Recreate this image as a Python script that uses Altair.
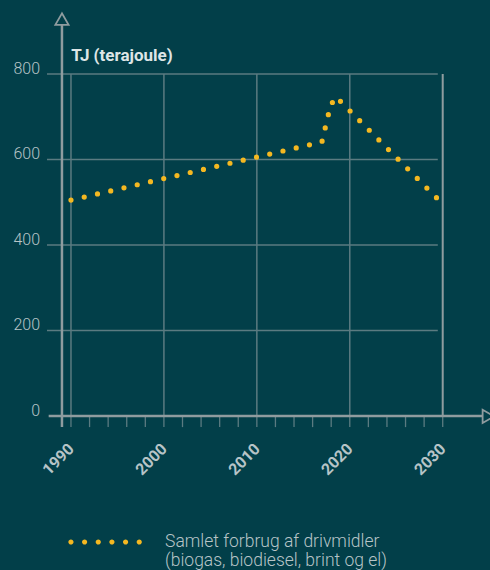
import altair as alt
import pandas as pd
import jinja2

# ---- data ----
hist_years = [1990, 2017, 2018, 2019]
hist_values = [505, 641, 733, 736]
proj_years = [2019, 2030]
proj_values = [736, 496]
series_label = "Samlet forbrug af drivmidler|(biogas, biodiesel, brint og el)"

x_label_years = [1990, 2000, 2010, 2020, 2030]
y_tick_values = [0, 200, 400, 600, 800]
grid_years = [1990, 2000, 2010, 2020]
end_year = [2030]
minor_tick_years = list(range(1990, 2031, 2))
h_grid_values = [200, 400, 600, 800]

# ---- style ----
BG = "#023f49"
GOLD = "#f4b821"
GRID = "#5b7b81"
AXIS = "#8f9c9f"
LABEL = "#b7c4c7"
TITLE = "#dde5e6"
FONT = "Roboto"

XMIN, XMAX = 1987.42, 2034.55
W, H = 438, 342
xs = alt.Scale(domain=[XMIN, XMAX], nice=False, zero=False)
ys = alt.Scale(domain=[0, 800], nice=False, zero=False)

GRID_END = 2029.47
Y_AXIS_X = 1989.03
TICK_LOW = -26
Y_AXIS_TOP = 917

xaxis = alt.Axis(values=x_label_years, format="d", labelAngle=-45, labelAlign="right",
                 labelBaseline="middle", labelFont=FONT, labelFontWeight="bold",
                 labelFontSize=16, labelColor=LABEL, labelPadding=30, ticks=False,
                 domain=False, grid=False, title=None, labelFlush=False, labelOverlap=False)
yaxis = alt.Axis(values=y_tick_values, labelFont=FONT, labelFontSize=16, labelFontWeight=300,
                 labelColor=LABEL, labelPadding=7.5, labelBaseline="alphabetic", labelOffset=-1,
                 ticks=False, domain=False, grid=False, title="TJ (terajoule)", titleAngle=0,
                 titleX=23.7, titleY=-13.3, titleAlign="left", titleBaseline="alphabetic",
                 titleFont=FONT, titleFontWeight="bold", titleFontSize=17, titleColor=TITLE)


def X(field):
    return alt.X(field, scale=xs, axis=xaxis)


def Y(field):
    return alt.Y(field, scale=ys, axis=yaxis)


# horizontal grid
df_h = pd.DataFrame({"y": h_grid_values})
df_h["x0"] = XMIN
df_h["x1"] = GRID_END
hgrid = alt.Chart(df_h).mark_rule(color=GRID, strokeWidth=1.5).encode(
    x=X("x0:Q"), x2="x1:Q", y=Y("y:Q"))

# vertical grid
df_v = pd.DataFrame({"x": grid_years})
df_v["y0"] = 0
df_v["y1"] = 800
vgrid = alt.Chart(df_v).mark_rule(color=GRID, strokeWidth=1.5).encode(
    x=X("x:Q"), y=Y("y0:Q"), y2="y1:Q")

df_end = pd.DataFrame({"x": end_year})
df_end["y0"] = 0
df_end["y1"] = 800
endline = alt.Chart(df_end).mark_rule(color=AXIS, strokeWidth=2).encode(
    x=X("x:Q"), y=Y("y0:Q"), y2="y1:Q")

# minor ticks below the axis
df_t = pd.DataFrame({"x": minor_tick_years})
df_t["y0"] = 0
df_t["y1"] = TICK_LOW
ticks = alt.Chart(df_t).mark_rule(color=GRID, strokeWidth=1.3).encode(
    x=X("x:Q"), y=Y("y0:Q"), y2="y1:Q")

# axis lines
df_xa = pd.DataFrame({"x0": [1987.6], "x1": [2034.29], "y": [0]})
xaxis_line = alt.Chart(df_xa).mark_rule(color=AXIS, strokeWidth=2.5).encode(
    x=X("x0:Q"), x2="x1:Q", y=Y("y:Q"))
df_ya = pd.DataFrame({"x": [Y_AXIS_X], "y0": [TICK_LOW], "y1": [Y_AXIS_TOP]})
yaxis_line = alt.Chart(df_ya).mark_rule(color=AXIS, strokeWidth=2.5).encode(
    x=X("x:Q"), y=Y("y0:Q"), y2="y1:Q")

# arrow heads
df_up = pd.DataFrame({"x": [Y_AXIS_X], "y": [928.5]})
arrow_up = alt.Chart(df_up).mark_point(shape="triangle-up", size=175, filled=False,
                                       color=AXIS, strokeWidth=1.8, opacity=1).encode(
    x=X("x:Q"), y=Y("y:Q"))
df_right = pd.DataFrame({"x": [2034.91], "y": [-1]})
arrow_right = alt.Chart(df_right).mark_point(shape="triangle-right", size=175, filled=False,
                                             color=AXIS, strokeWidth=1.8, opacity=1).encode(
    x=X("x:Q"), y=Y("y:Q"))

# data line (dotted)
df_line = pd.DataFrame({
    "year": hist_years + proj_years,
    "value": hist_values + proj_values,
    "part": ["hist"] * len(hist_years) + ["proj"] * len(proj_years),
})
df_line["series"] = series_label

r = 2.6 / 36.75
centers = [-1 + r + i * (2 - 2 * r) / 5 for i in range(6)]
sym_path = "".join(
    f"M{c - r:.4f},0A{r:.4f},{r:.4f} 0 1,0 {c + r:.4f},0A{r:.4f},{r:.4f} 0 1,0 {c - r:.4f},0Z"
    for c in centers)

legend = alt.Legend(title=None, orient="none", legendX=21.1, legendY=431,
                    symbolType=sym_path, symbolSize=73.5 * 73.5, symbolFillColor=GOLD,
                    symbolStrokeWidth=0, labelExpr="split(datum.label, '|')",
                    labelFont=FONT, labelFontSize=17.5, labelFontWeight=300,
                    labelColor=LABEL, labelOffset=23, labelLimit=400)

line = alt.Chart(df_line).mark_line(strokeWidth=5.2, strokeDash=[0, 13.6], strokeCap="round",
                                    strokeJoin="round").encode(
    x=X("year:Q"),
    y=Y("value:Q"),
    detail="part:N",
    color=alt.Color("series:N", scale=alt.Scale(range=[GOLD]), legend=legend),
)

chart = alt.layer(hgrid, vgrid, endline, ticks, xaxis_line, yaxis_line, arrow_up, arrow_right,
                  line).properties(
    width=W, height=H,
    padding={"left": 47, "top": 74, "right": 5, "bottom": 154},
    autosize=alt.AutoSizeParams(type="none"),
    background=BG,
).configure(style={"guide-label": {"lineHeight": 19}}).configure_view(stroke=None)

page = jinja2.Template("""<!DOCTYPE html>
<html>
<head>
<meta charset="utf-8">
<style>
  html, body { margin: 0; padding: 0; background: #023f49; overflow: hidden; }
  #{{ output_div }}.vega-embed { display: block; }
</style>
<script type="text/javascript" src="{{ base_url }}/vega@{{ vega_version }}"></script>
<script type="text/javascript" src="{{ base_url }}/vega-lite@{{ vegalite_version }}"></script>
<script type="text/javascript" src="{{ base_url }}/vega-embed@{{ vegaembed_version }}"></script>
</head>
<body>
<div id="{{ output_div }}"></div>
<script type="text/javascript">
  var spec = {{ spec }};
  var embedOpt = {{ embed_options }};
  vegaEmbed("#{{ output_div }}", spec, embedOpt).catch(console.error);
</script>
</body>
</html>
""")

chart.save("out.html", embed_options={"renderer": "svg", "actions": False}, template=page)
